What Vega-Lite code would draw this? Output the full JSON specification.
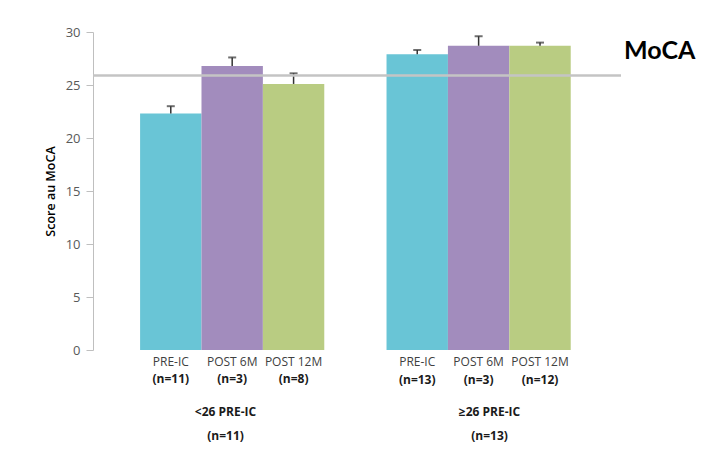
{
  "$schema": "https://vega.github.io/schema/vega-lite/v6.json",
  "padding": {"left": 44, "top": 26, "right": 5, "bottom": 5},
  "background": "white",
  "bounds": "flush",
  "config": {
    "font": "Open Sans",
    "view": {"stroke": null},
    "axisY": {"grid": false, "domainColor": "#BFBFBF", "tickColor": "#BFBFBF", "tickSize": 7, "labelFontSize": 13, "labelColor": "#595959", "labelPadding": 6, "titleFontSize": 12.5, "titleFontWeight": 600, "titleColor": "#000000", "titlePadding": 8, "values": [0, 5, 10, 15, 20, 25, 30]}
  },
  "datasets": {
    "scores": [
      {"grp": "<26", "key": "PRE-IC|(n=11)", "time": "PRE-IC", "mean": 22.3, "upper": 23.0},
      {"grp": "<26", "key": "POST 6M|(n=3)", "time": "POST 6M", "mean": 26.8, "upper": 27.6},
      {"grp": "<26", "key": "POST 12M|(n=8)", "time": "POST 12M", "mean": 25.1, "upper": 26.1},
      {"grp": ">=26", "key": "PRE-IC|(n=13)", "time": "PRE-IC", "mean": 27.9, "upper": 28.3},
      {"grp": ">=26", "key": "POST 6M|(n=3)", "time": "POST 6M", "mean": 28.7, "upper": 29.6},
      {"grp": ">=26", "key": "POST 12M|(n=12)", "time": "POST 12M", "mean": 28.7, "upper": 29.0}
    ],
    "threshold": [{"moca_cutoff": 25.9, "label": "MoCA"}]
  },
  "spacing": 0,
  "hconcat": [
    {
      "width": 264,
      "height": 318,
      "layer": [
        {
          "data": {"name": "scores"},
          "transform": [{"filter": "datum.grp == '<26'"}],
          "mark": {"type": "bar"},
          "encoding": {
            "x": {"field": "key", "type": "nominal", "sort": null,
              "scale": {"paddingInner": 0, "paddingOuter": 0.65, "align": 0.59},
              "axis": {"orient": "bottom", "labelExpr": "split(datum.label, '|')[0]", "labelAngle": 0, "domain": false, "ticks": false, "labelPadding": 6, "title": null, "labelFontSize": 12, "labelColor": "#404040"}},
            "y": {"field": "mean", "type": "quantitative", "scale": {"domain": [0, 30]}, "title": "Score au MoCA"},
            "color": {"field": "time", "type": "nominal", "scale": {"domain": ["PRE-IC", "POST 6M", "POST 12M"], "range": ["#69C5D6", "#A28CBD", "#B9CC82"]}, "legend": null}
          }
        },
        {
          "data": {"name": "scores"},
          "transform": [{"filter": "datum.grp == '<26'"}],
          "mark": {"type": "rule", "color": "#333333", "strokeWidth": 1.5},
          "encoding": {
            "x": {"field": "key", "type": "nominal", "sort": null,
              "axis": {"orient": "bottom", "labelExpr": "split(datum.label, '|')[1]", "labelAngle": 0, "domain": false, "ticks": false, "labelPadding": 6, "offset": 17, "labelFontSize": 12, "labelFontWeight": "bold", "labelColor": "#1a1a1a",
                "title": ["<26 PRE-IC", "(n=11)"], "titleFontSize": 12, "titleFontWeight": "bold", "titleColor": "#1a1a1a", "titleLineHeight": 24, "titlePadding": 22}},
            "y": {"field": "upper", "type": "quantitative", "title": "Score au MoCA"},
            "y2": {"field": "mean"}
          }
        },
        {
          "data": {"name": "scores"},
          "transform": [{"filter": "datum.grp == '<26'"}],
          "mark": {"type": "tick", "color": "#333333", "thickness": 2, "size": 8},
          "encoding": {
            "x": {"field": "key", "type": "nominal", "sort": null, "axis": null},
            "y": {"field": "upper", "type": "quantitative", "title": "Score au MoCA"}
          }
        },
        {
          "data": {"name": "threshold"},
          "mark": {"type": "rule", "color": "#C4C4C4", "strokeWidth": 2.5},
          "encoding": {
            "y": {"field": "moca_cutoff", "type": "quantitative", "title": "Score au MoCA"}
          }
        }
      ],
      "resolve": {"axis": {"x": "independent"}}
    },
    {
      "width": 264,
      "height": 318,
      "layer": [
        {
          "data": {"name": "scores"},
          "transform": [{"filter": "datum.grp == '>=26'"}],
          "mark": {"type": "bar"},
          "encoding": {
            "x": {"field": "key", "type": "nominal", "sort": null,
              "scale": {"paddingInner": 0, "paddingOuter": 0.65, "align": 0.37},
              "axis": {"orient": "bottom", "labelExpr": "split(datum.label, '|')[0]", "labelAngle": 0, "domain": false, "ticks": false, "labelPadding": 6, "title": null, "labelFontSize": 12, "labelColor": "#404040"}},
            "y": {"field": "mean", "type": "quantitative", "scale": {"domain": [0, 30]}, "axis": null},
            "color": {"field": "time", "type": "nominal", "scale": {"domain": ["PRE-IC", "POST 6M", "POST 12M"], "range": ["#69C5D6", "#A28CBD", "#B9CC82"]}, "legend": null}
          }
        },
        {
          "data": {"name": "scores"},
          "transform": [{"filter": "datum.grp == '>=26'"}],
          "mark": {"type": "rule", "color": "#333333", "strokeWidth": 1.5},
          "encoding": {
            "x": {"field": "key", "type": "nominal", "sort": null,
              "axis": {"orient": "bottom", "labelExpr": "split(datum.label, '|')[1]", "labelAngle": 0, "domain": false, "ticks": false, "labelPadding": 6, "offset": 18, "labelFontSize": 12, "labelFontWeight": "bold", "labelColor": "#1a1a1a",
                "title": ["≥26 PRE-IC", "(n=13)"], "titleFontSize": 12, "titleFontWeight": "bold", "titleColor": "#1a1a1a", "titleLineHeight": 24, "titlePadding": 21}},
            "y": {"field": "upper", "type": "quantitative", "axis": null},
            "y2": {"field": "mean"}
          }
        },
        {
          "data": {"name": "scores"},
          "transform": [{"filter": "datum.grp == '>=26'"}],
          "mark": {"type": "tick", "color": "#333333", "thickness": 2, "size": 8},
          "encoding": {
            "x": {"field": "key", "type": "nominal", "sort": null, "axis": null},
            "y": {"field": "upper", "type": "quantitative", "axis": null}
          }
        },
        {
          "data": {"name": "threshold"},
          "mark": {"type": "rule", "color": "#C4C4C4", "strokeWidth": 2.5},
          "encoding": {
            "y": {"field": "moca_cutoff", "type": "quantitative", "axis": null}
          }
        },
        {
          "data": {"name": "threshold"},
          "mark": {"type": "text", "align": "left", "baseline": "middle", "dx": 3, "fontSize": 25, "fontWeight": "bold", "font": "Lato", "color": "#000000", "clip": false},
          "encoding": {
            "x": {"value": "width"},
            "y": {"datum": 28.2, "type": "quantitative", "axis": null},
            "text": {"field": "label"}
          }
        }
      ],
      "resolve": {"axis": {"x": "independent"}}
    }
  ]
}
